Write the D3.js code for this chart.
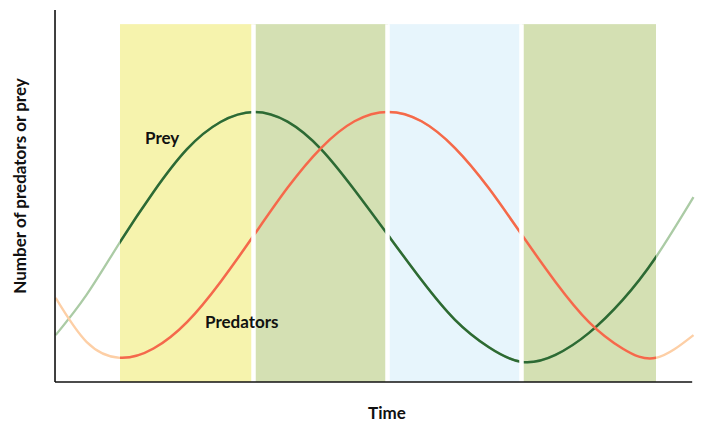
<!DOCTYPE html>
<html>
<head>
<meta charset="utf-8">
<script src="https://cdn.jsdelivr.net/npm/d3@7"></script>
<style>
  body { margin: 0; background: #fff; }
  text { font-family: Lato, "Open Sans", sans-serif; font-weight: bold; fill: #111; }
</style>
</head>
<body>
<script>
// time in "phase" units (each coloured band is one phase), counts in arbitrary units
var times         = [-0.48, -0.25, 0, 0.25, 0.5, 0.75, 1, 1.25, 1.5, 1.75, 2, 2.25, 2.5, 2.75, 3, 3.25, 3.5, 3.75, 4, 4.28];
var preyCount     = [12.6, 23.4, 37.6, 51.1, 62.6, 69.9, 72.6, 70.0, 62.6, 51.6, 39.5, 27.4, 16.7, 9.4, 5.4, 7.3, 13.2, 22.0, 33.6, 49.7];
var predatorCount = [22.6, 10.8, 6.5, 9.0, 16.1, 26.9, 39.5, 52.2, 62.9, 70.1, 72.6, 70.1, 62.9, 52.2, 39.5, 26.9, 16.1, 9.0, 6.5, 12.6];

var bandStart  = [0, 1, 2, 3];
var bandColors = ["#f6f3ad", "#d4e0b3", "#e7f5fc", "#d4e0b3"];
var bandTop = 96.2;
var timeMin = -0.485, timeMax = 4.27;

var width = 710, height = 434;

var svg = d3.select("body")
    .append("svg")
    .attr("width", width)
    .attr("height", height);

var x = d3.scaleLinear().domain([0, 4]).range([120, 656]);
var y = d3.scaleLinear().domain([0, 100]).range([382, 10]);

// bands
svg.selectAll("rect.band")
   .data(bandStart)
   .enter()
   .append("rect")
   .attr("class", "band")
   .attr("x", d => x(d))
   .attr("y", y(bandTop))
   .attr("width", d => x(d + 1) - x(d))
   .attr("height", y(0) - y(bandTop))
   .attr("fill", (d, i) => bandColors[i]);

var prey = times.map((t, i) => [t, preyCount[i]]);
var predators = times.map((t, i) => [t, predatorCount[i]]);

var line = d3.line()
    .x(d => x(d[0]))
    .y(d => y(d[1]))
    .curve(d3.curveNatural);

var defs = svg.append("defs");
defs.append("clipPath")
    .attr("id", "inside")
    .append("rect")
    .attr("x", x(0))
    .attr("y", 0)
    .attr("width", x(4) - x(0))
    .attr("height", height);

// faded curves outside the bands
svg.append("path").attr("d", line(prey))
   .attr("fill", "none").attr("stroke", "#abcba5").attr("stroke-width", 2.3);
svg.append("path").attr("d", line(predators))
   .attr("fill", "none").attr("stroke", "#fdcfa6").attr("stroke-width", 2.3);

// strong curves inside the bands
svg.append("path").attr("d", line(prey)).attr("clip-path", "url(#inside)")
   .attr("fill", "none").attr("stroke", "#2d6a33").attr("stroke-width", 2.5);
svg.append("path").attr("d", line(predators)).attr("clip-path", "url(#inside)")
   .attr("fill", "none").attr("stroke", "#f4694b").attr("stroke-width", 2.5);

// white separators between bands
svg.selectAll("line.sep")
   .data([1, 2, 3])
   .enter()
   .append("line")
   .attr("x1", d => x(d) - 0.5)
   .attr("x2", d => x(d) - 0.5)
   .attr("y1", y(bandTop))
   .attr("y2", y(0))
   .attr("stroke", "#fff")
   .attr("stroke-width", 4.5);

// axes
svg.append("line")
   .attr("x1", x(timeMin)).attr("x2", x(timeMin))
   .attr("y1", y(100)).attr("y2", y(0))
   .attr("stroke", "#111").attr("stroke-width", 1.6);
svg.append("line")
   .attr("x1", x(timeMin)).attr("x2", x(timeMax))
   .attr("y1", y(0)).attr("y2", y(0))
   .attr("stroke", "#111").attr("stroke-width", 1.6);

// labels
svg.append("text")
   .attr("x", 145).attr("y", 144)
   .style("font-size", "17px")
   .text("Prey");

svg.append("text")
   .attr("x", 205).attr("y", 328)
   .style("font-size", "17px")
   .text("Predators");

svg.append("text")
   .attr("x", 387).attr("y", 419)
   .attr("text-anchor", "middle")
   .style("font-size", "17px")
   .text("Time");

svg.append("text")
   .attr("transform", "translate(26,186) rotate(-90)")
   .attr("text-anchor", "middle")
   .style("font-size", "17px")
   .text("Number of predators or prey");
</script>
</body>
</html>
